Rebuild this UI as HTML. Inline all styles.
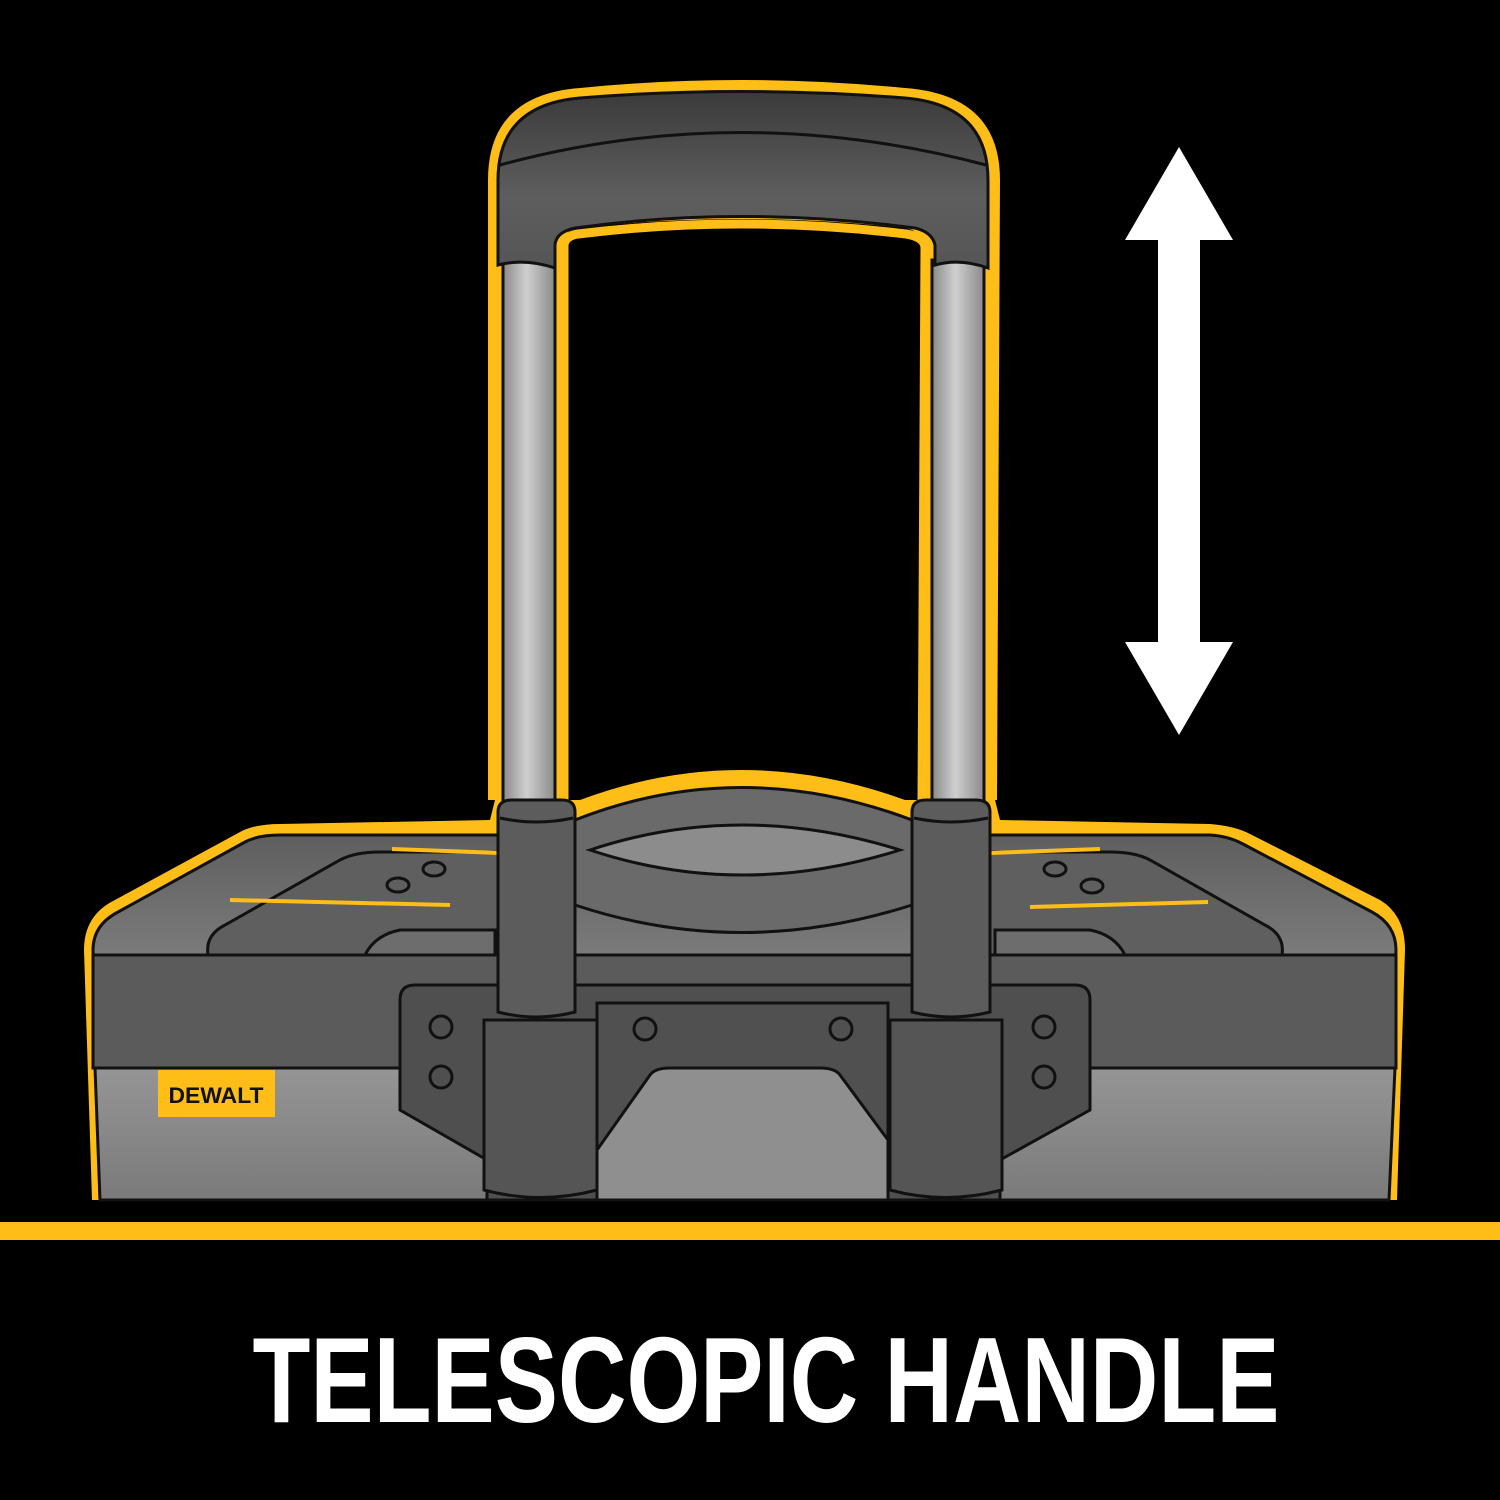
<!DOCTYPE html>
<html><head><meta charset="utf-8"><style>html,body{margin:0;padding:0;background:#000}svg{display:block}</style></head>
<body>
<svg width="1500" height="1500" viewBox="0 0 1500 1500" xmlns="http://www.w3.org/2000/svg">
<defs>
<linearGradient id="lid" x1="0" y1="0" x2="0" y2="1"><stop offset="0" stop-color="#5e5e5e"/><stop offset="0.5" stop-color="#8a8a8a"/><stop offset="1" stop-color="#4c4c4c"/></linearGradient>
<linearGradient id="grip" x1="0" y1="0" x2="0" y2="1"><stop offset="0" stop-color="#3a3a3a"/><stop offset="0.6" stop-color="#5e5e5e"/><stop offset="1" stop-color="#555"/></linearGradient>
<linearGradient id="tube" x1="0" y1="0" x2="1" y2="0"><stop offset="0" stop-color="#8a8a8a"/><stop offset="0.45" stop-color="#cfcfcf"/><stop offset="1" stop-color="#8a8a8a"/></linearGradient>
<linearGradient id="low" x1="0" y1="0" x2="0" y2="1"><stop offset="0" stop-color="#959595"/><stop offset="1" stop-color="#7a7a7a"/></linearGradient>
</defs>
<rect width="1500" height="1500" fill="#000"/>
<rect x="0" y="1222" width="1500" height="18" fill="#febd17"/>
<path d="M92,1200 L84,950 Q84,915 115,900 L240,832 Q255,824 280,824 L490,820 L495,800 L580,800 Q740,740 905,800 L995,800 L1000,820 L1210,824 Q1235,826 1250,834 L1380,900 Q1405,915 1405,950 L1397,1200 Z" fill="#febd17"/>
<path d="M100,1200 L93,950 Q93,925 118,912 L245,842 Q258,835 280,835 L1210,835 Q1228,836 1243,844 L1372,912 Q1396,925 1396,950 L1388,1200 Z" fill="url(#lid)" stroke="#111" stroke-width="3"/>
<rect x="93" y="955" width="1303" height="113" fill="#5b5b5b" stroke="#111" stroke-width="3"/>
<path d="M95,1068 L1395,1068 L1389,1200 L100,1200 Z" fill="url(#low)" stroke="#111" stroke-width="3"/>
<path d="M208,955 Q205,935 225,925 L340,860 Q355,852 380,852 L500,852 L500,955 Z" fill="#5f5f5f" stroke="#111" stroke-width="3"/>
<path d="M1282,955 Q1285,935 1265,925 L1150,860 Q1135,852 1110,852 L990,852 L990,955 Z" fill="#5f5f5f" stroke="#111" stroke-width="3"/>
<path d="M392,849 L500,853 M230,900 L450,905 M990,853 L1100,849 M1030,907 L1208,902" stroke="#febd17" stroke-width="4"/>
<ellipse cx="398" cy="885" rx="11" ry="7" fill="none" stroke="#111" stroke-width="3"/>
<ellipse cx="434" cy="869" rx="11" ry="7" fill="none" stroke="#111" stroke-width="3"/>
<ellipse cx="1055" cy="869" rx="11" ry="7" fill="none" stroke="#111" stroke-width="3"/>
<ellipse cx="1092" cy="886" rx="11" ry="7" fill="none" stroke="#111" stroke-width="3"/>
<path d="M575,820 Q740,755 912,820 L912,905 Q740,960 575,905 Z" fill="#6a6a6a" stroke="#111" stroke-width="3"/>
<path d="M590,850 Q740,800 900,850 Q740,900 590,850 Z" fill="#8c8c8c" stroke="#111" stroke-width="3"/>
<path d="M365,955 Q375,935 400,930 L495,930 L495,955 Z M1125,955 Q1115,935 1090,930 L995,930 L995,955 Z" fill="#6d6d6d" stroke="#111" stroke-width="3"/>
<path d="M400,1000 Q400,985 415,985 L1075,985 Q1090,985 1090,1000 L1090,1110 L1000,1160 L1000,1200 L487,1200 L487,1160 L400,1110 Z" fill="#4f4f4f" stroke="#111" stroke-width="3"/>
<path d="M597,1003 L888,1003 L888,1200 L597,1200 Z" fill="#505050" stroke="#111" stroke-width="3"/>
<path d="M597,1150 L650,1075 Q655,1068 670,1068 L820,1068 Q835,1068 840,1075 L888,1140 L888,1200 L597,1200 Z" fill="#8f8f8f" stroke="#111" stroke-width="3"/>
<circle cx="441" cy="1027" r="11" fill="none" stroke="#111" stroke-width="3"/>
<circle cx="441" cy="1077" r="11" fill="none" stroke="#111" stroke-width="3"/>
<circle cx="645" cy="1029" r="11" fill="none" stroke="#111" stroke-width="3"/>
<circle cx="841" cy="1029" r="11" fill="none" stroke="#111" stroke-width="3"/>
<circle cx="1044" cy="1027" r="11" fill="none" stroke="#111" stroke-width="3"/>
<circle cx="1044" cy="1077" r="11" fill="none" stroke="#111" stroke-width="3"/>
<path d="M484,1020 L597,1020 L597,1190 Q540,1205 484,1190 Z" fill="#555" stroke="#111" stroke-width="3"/>
<path d="M890,1020 L1002,1020 L1002,1190 Q945,1205 890,1190 Z" fill="#555" stroke="#111" stroke-width="3"/>
<rect x="158" y="1070" width="117" height="47" fill="#febd17"/>
<text x="216" y="1103" text-anchor="middle" font-family="Liberation Sans, sans-serif" font-weight="bold" font-size="22" fill="#111" textLength="95" lengthAdjust="spacingAndGlyphs">DEWALT</text>
<path d="M488,800 L488,180 Q488,95 580,88 Q740,72 905,88 Q1000,95 1000,180 L997,800 L920,800 L922,245 Q920,230 905,228 Q740,210 578,228 Q560,232 566,245 L566,800 Z" fill="#febd17"/>
<rect x="503" y="260" width="52" height="545" fill="url(#tube)" stroke="#111" stroke-width="3"/>
<rect x="932" y="260" width="52" height="545" fill="url(#tube)" stroke="#111" stroke-width="3"/>
<path d="M498,265 L498,180 Q498,105 580,98 Q740,85 905,98 Q988,105 988,180 L988,268 Q960,258 935,265 L935,245 Q932,232 915,228 Q740,205 575,228 Q556,232 555,245 L555,268 Q525,258 498,265 Z" fill="url(#grip)" stroke="#111" stroke-width="3"/>
<path d="M500,165 Q740,100 986,165" fill="none" stroke="#111" stroke-width="3"/>
<path d="M564,802 L564,246 Q564,236 578,234 Q740,214 906,234 Q925,237 925,248 L922,802" fill="none" stroke="#febd17" stroke-width="9"/>
<path d="M498,812 Q498,800 512,800 L562,800 Q575,800 575,812 L575,1012 Q537,1022 498,1012 Z" fill="#5c5c5c" stroke="#111" stroke-width="3"/>
<path d="M912,812 Q912,800 926,800 L976,800 Q990,800 990,812 L990,1012 Q951,1022 912,1012 Z" fill="#5c5c5c" stroke="#111" stroke-width="3"/>
<path d="M500,818 Q537,826 573,818 M914,818 Q951,826 988,818" fill="none" stroke="#111" stroke-width="3"/>
<path d="M1179,147 L1233,240 L1200,240 L1200,642 L1233,642 L1179,735 L1125,642 L1158,642 L1158,240 L1125,240 Z" fill="#fff"/>
<text x="766" y="1422" text-anchor="middle" font-family="Liberation Sans Narrow, Liberation Sans, sans-serif" font-weight="bold" font-size="122" fill="#fff" textLength="1027" lengthAdjust="spacingAndGlyphs">TELESCOPIC HANDLE</text>
</svg>
</body></html>
